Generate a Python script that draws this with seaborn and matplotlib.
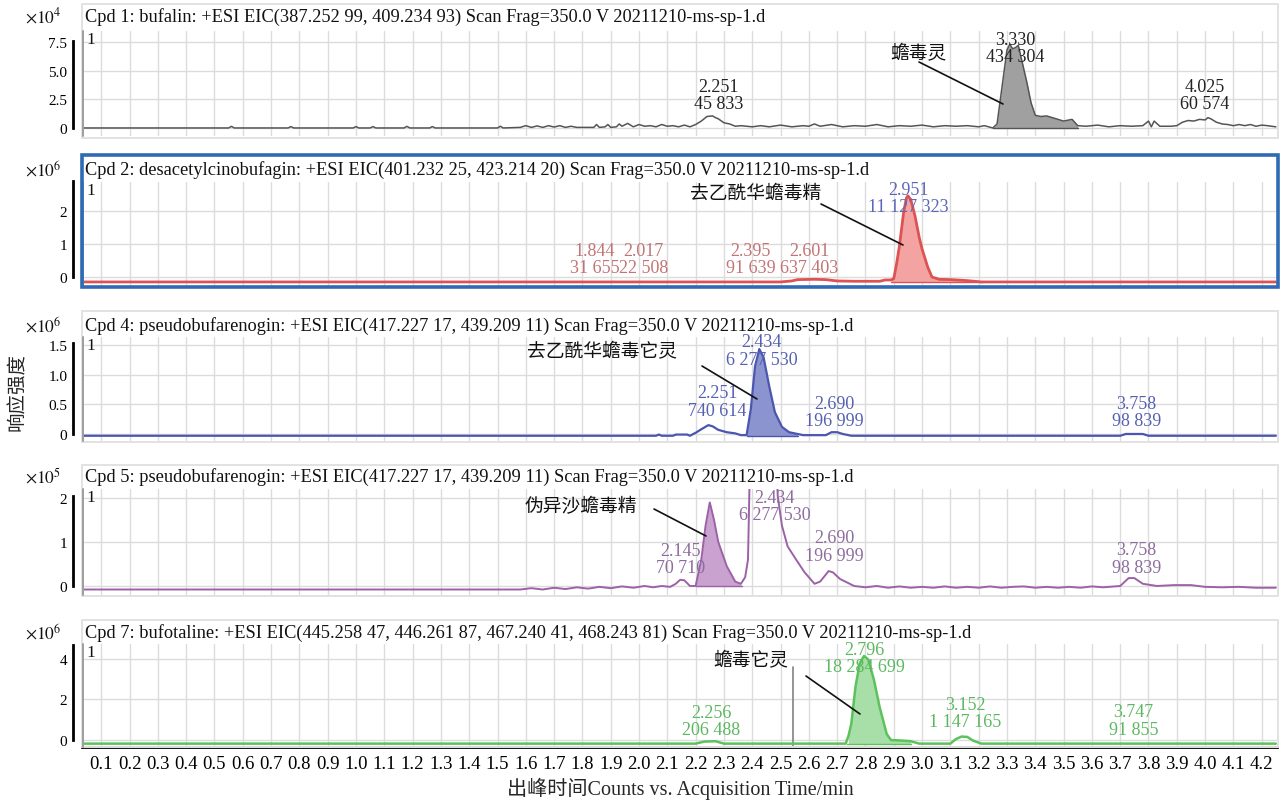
import matplotlib
matplotlib.use("Agg")
import matplotlib.pyplot as plt
from matplotlib.lines import Line2D
from matplotlib.patches import Rectangle
import pandas as pd
import seaborn as sns

# ---------------- data ----------------
titles = [
    "Cpd 1: bufalin: +ESI EIC(387.252 99, 409.234 93) Scan Frag=350.0 V 20211210-ms-sp-1.d",
    "Cpd 2: desacetylcinobufagin: +ESI EIC(401.232 25, 423.214 20) Scan Frag=350.0 V 20211210-ms-sp-1.d",
    "Cpd 4: pseudobufarenogin: +ESI EIC(417.227 17, 439.209 11) Scan Frag=350.0 V 20211210-ms-sp-1.d",
    "Cpd 5: pseudobufarenogin: +ESI EIC(417.227 17, 439.209 11) Scan Frag=350.0 V 20211210-ms-sp-1.d",
    "Cpd 7: bufotaline: +ESI EIC(445.258 47, 446.261 87, 467.240 41, 468.243 81) Scan Frag=350.0 V 20211210-ms-sp-1.d",
]
exponents = [4, 6, 6, 5, 6]
compound_names = ["蟾毒灵", "去乙酰华蟾毒精", "去乙酰华蟾毒它灵", "伪异沙蟾毒精", "蟾毒它灵"]

y_ticks = [[0, 2.5, 5.0, 7.5], [0, 1, 2], [0, 0.5, 1.0, 1.5], [0, 1, 2], [0, 2, 4]]
y_tick_labels = [["0", "2.5", "5.0", "7.5"], ["0", "1", "2"], ["0", "0.5", "1.0", "1.5"],
                 ["0", "1", "2"], ["0", "2", "4"]]

x_ticks = [0.1, 0.2, 0.3, 0.4, 0.5, 0.6, 0.7, 0.8, 0.9, 1.0, 1.1, 1.2, 1.3, 1.4,
           1.5, 1.6, 1.7, 1.8, 1.9, 2.0, 2.1, 2.2, 2.3, 2.4, 2.5, 2.6, 2.7, 2.8,
           2.9, 3.0, 3.1, 3.2, 3.3, 3.4, 3.5, 3.6, 3.7, 3.8, 3.9, 4.0, 4.1, 4.2]
x_tick_labels = ["0.1", "0.2", "0.3", "0.4", "0.5", "0.6", "0.7", "0.8", "0.9", "1.0",
                 "1.1", "1.2", "1.3", "1.4", "1.5", "1.6", "1.7", "1.8", "1.9", "2.0",
                 "2.1", "2.2", "2.3", "2.4", "2.5", "2.6", "2.7", "2.8", "2.9", "3.0",
                 "3.1", "3.2", "3.3", "3.4", "3.5", "3.6", "3.7", "3.8", "3.9", "4.0",
                 "4.1", "4.2"]

# EIC traces: (time / min, counts in units of 10^exponent)
trace_bufalin = [
    (0.03, 0.0), (0.55, 0.0), (0.56, 0.14), (0.57, 0.0), (0.76, 0.0), (0.77, 0.12), (0.78, 0.0),
    (0.99, 0.0), (1.00, 0.12), (1.01, 0.0), (1.05, 0.0), (1.06, 0.12), (1.07, 0.0), (1.17, 0.0),
    (1.18, 0.14), (1.19, 0.0), (1.26, 0.0), (1.27, 0.12), (1.28, 0.0), (1.50, 0.0), (1.51, 0.15),
    (1.52, 0.0), (1.58, 0.05), (1.60, 0.2), (1.62, 0.05), (1.64, 0.18), (1.66, 0.05), (1.68, 0.2),
    (1.70, 0.08), (1.72, 0.2), (1.74, 0.05), (1.76, 0.15), (1.78, 0.05), (1.84, 0.05), (1.85, 0.3),
    (1.86, 0.05), (1.88, 0.1), (1.89, 0.3), (1.90, 0.05), (1.92, 0.1), (1.93, 0.35), (1.94, 0.15),
    (1.96, 0.4), (1.98, 0.1), (2.00, 0.3), (2.02, 0.15), (2.04, 0.2), (2.06, 0.1), (2.08, 0.3),
    (2.10, 0.15), (2.12, 0.2), (2.14, 0.1), (2.16, 0.25), (2.18, 0.1), (2.20, 0.3), (2.22, 0.6),
    (2.24, 1.0), (2.26, 1.05), (2.27, 0.9), (2.28, 0.8), (2.30, 0.45), (2.32, 0.35), (2.34, 0.15),
    (2.36, 0.2), (2.40, 0.1), (2.43, 0.2), (2.46, 0.1), (2.50, 0.25), (2.54, 0.1), (2.58, 0.2),
    (2.60, 0.15), (2.62, 0.35), (2.64, 0.15), (2.68, 0.3), (2.72, 0.1), (2.76, 0.2), (2.80, 0.15),
    (2.84, 0.3), (2.88, 0.1), (2.92, 0.2), (2.96, 0.15), (3.00, 0.25), (3.04, 0.1), (3.08, 0.2),
    (3.12, 0.15), (3.16, 0.2), (3.20, 0.1), (3.22, 0.2), (3.25, 0.0), (3.265, 0.35), (3.285, 4.0),
    (3.30, 6.8), (3.31, 7.3), (3.32, 6.9), (3.33, 7.0), (3.34, 7.2), (3.355, 5.6), (3.37, 4.0),
    (3.385, 2.2), (3.40, 1.1), (3.42, 1.0), (3.44, 1.05), (3.46, 0.9), (3.48, 0.75), (3.50, 0.6),
    (3.52, 0.7), (3.53, 0.75), (3.55, 0.2), (3.58, 0.15), (3.62, 0.25), (3.66, 0.1), (3.70, 0.2),
    (3.74, 0.15), (3.78, 0.2), (3.80, 0.6), (3.81, 0.1), (3.82, 0.6), (3.84, 0.15), (3.88, 0.15),
    (3.90, 0.2), (3.92, 0.5), (3.94, 0.65), (3.96, 0.6), (3.98, 0.75), (4.00, 0.7), (4.01, 0.9),
    (4.02, 0.8), (4.04, 0.5), (4.06, 0.35), (4.08, 0.3), (4.10, 0.2), (4.12, 0.3), (4.14, 0.2),
    (4.16, 0.3), (4.18, 0.15), (4.20, 0.25), (4.22, 0.2), (4.25, 0.1),
]
trace_desacetylcinobufagin = [
    (0.03, -0.15), (2.50, -0.15), (2.54, -0.12), (2.56, -0.08), (2.62, -0.07), (2.66, -0.08),
    (2.70, -0.12), (2.76, -0.13), (2.85, -0.13), (2.87, -0.09), (2.89, -0.09), (2.90, -0.05),
    (2.91, 0.4), (2.92, 0.94), (2.935, 1.97), (2.945, 2.4), (2.95, 2.46), (2.96, 2.35),
    (2.975, 1.85), (2.99, 1.2), (3.00, 0.85), (3.02, 0.3), (3.035, 0.0), (3.06, -0.07),
    (3.105, -0.08), (3.16, -0.11), (3.21, -0.15), (4.25, -0.15),
]
trace_cpd4 = [
    (0.03, -0.03), (2.00, -0.03), (2.06, -0.03), (2.07, -0.01), (2.08, -0.03), (2.12, -0.03),
    (2.13, -0.01), (2.17, -0.01), (2.18, -0.03), (2.20, 0.02), (2.22, 0.08), (2.245, 0.15),
    (2.26, 0.13), (2.28, 0.07), (2.31, 0.03), (2.34, 0.01), (2.36, -0.02), (2.38, -0.02),
    (2.395, 0.42), (2.41, 1.15), (2.425, 1.44), (2.44, 1.30), (2.46, 0.81), (2.48, 0.37),
    (2.505, 0.12), (2.53, 0.03), (2.56, 0.0), (2.58, -0.02), (2.66, -0.02), (2.68, 0.03),
    (2.70, 0.03), (2.72, 0.0), (2.75, -0.03), (3.70, -0.03), (3.72, 0.0), (3.78, 0.0),
    (3.80, -0.03), (4.25, -0.03),
]
trace_cpd5 = [
    (0.03, -0.08), (1.58, -0.08), (1.62, -0.05), (1.66, -0.08), (1.70, -0.04), (1.74, -0.07),
    (1.78, -0.03), (1.82, -0.06), (1.86, -0.02), (1.90, -0.05), (1.94, -0.01), (1.98, -0.04),
    (2.02, 0.0), (2.05, -0.03), (2.08, 0.0), (2.11, -0.02), (2.13, 0.05), (2.145, 0.14),
    (2.16, 0.13), (2.18, 0.0), (2.20, 0.0), (2.22, 0.6), (2.235, 1.37), (2.25, 1.9),
    (2.265, 1.5), (2.28, 1.0), (2.31, 0.45), (2.34, 0.1), (2.36, 0.05), (2.375, 0.2),
    (2.385, 0.6), (2.39, 2.2), (2.395, 6.0), (2.41, 12.0), (2.425, 14.4), (2.44, 13.0),
    (2.46, 8.1), (2.48, 3.7), (2.49, 2.05), (2.505, 1.37), (2.525, 0.9), (2.555, 0.6),
    (2.585, 0.31), (2.62, 0.05), (2.64, 0.1), (2.67, 0.34), (2.685, 0.31), (2.71, 0.16),
    (2.76, 0.0), (2.80, -0.03), (2.84, 0.0), (2.88, -0.04), (2.92, -0.01), (2.96, -0.04),
    (3.00, -0.02), (3.04, -0.04), (3.08, -0.01), (3.12, -0.04), (3.16, -0.02), (3.20, -0.04),
    (3.24, -0.01), (3.28, -0.04), (3.32, -0.02), (3.36, -0.01), (3.40, -0.04), (3.44, -0.02),
    (3.48, -0.04), (3.52, -0.02), (3.56, -0.04), (3.60, -0.01), (3.64, -0.03), (3.70, 0.0),
    (3.73, 0.18), (3.75, 0.18), (3.78, 0.05), (3.83, 0.0), (3.89, 0.02), (3.95, 0.02),
    (4.00, -0.02), (4.06, -0.03), (4.12, -0.02), (4.18, -0.04), (4.25, -0.04),
]
trace_bufotaline = [
    (0.03, -0.18), (2.20, -0.18), (2.23, -0.08), (2.27, -0.06), (2.30, -0.18), (2.73, -0.18),
    (2.74, 0.2), (2.75, 0.8), (2.765, 2.65), (2.78, 3.8), (2.795, 4.15), (2.81, 3.97),
    (2.83, 2.97), (2.85, 1.63), (2.875, 0.3), (2.89, 0.0), (2.93, -0.03), (2.96, -0.06),
    (2.99, -0.18), (3.10, -0.18), (3.12, 0.05), (3.14, 0.17), (3.16, 0.15), (3.18, -0.03),
    (3.21, -0.18), (4.25, -0.18),
]
traces = [trace_bufalin, trace_desacetylcinobufagin, trace_cpd4, trace_cpd5, trace_bufotaline]

# integrated peak (shaded) windows and the baseline they sit on
fill_windows = [(3.25, 3.55), (2.89, 3.21), (2.38, 2.56), (2.20, 2.365), (2.735, 2.96)]
fill_bases = [0.0, -0.15, -0.03, 0.0, -0.18]

# peak labels: retention time and area
peak_rt = [["2.251", "3.330", "4.025"],
           ["1.844", "2.017", "2.395", "2.601", "2.951"],
           ["2.251", "2.434", "2.690", "3.758"],
           ["2.145", "2.434", "2.690", "3.758"],
           ["2.256", "2.796", "3.152", "3.747"]]
peak_area = [["45 833", "434 304", "60 574"],
             ["31 655", "22 508", "91 639", "637 403", "11 127 323"],
             ["740 614", "6 277 530", "196 999", "98 839"],
             ["70 710", "6 277 530", "196 999", "98 839"],
             ["206 488", "18 284 699", "1 147 165", "91 855"]]

cursor_time = 2.545  # marker line in the Cpd 7 panel

# ---------------- layout / style ----------------
W, H = 1284, 803
AX_L, AX_R = 82, 1277
XLIM = (0.032, 4.254)

# per panel: data area top/bottom (px), frame top/bottom (px), title row (px)
data_px = [(32, 137), (183, 287), (338, 442), (490, 596), (645, 748)]
frame_px = [(5, 139), (156, 288), (312, 443), (466, 597), (621, 748)]
title_px = [17, 170, 326, 477, 633]
ylims = [(-0.70, 8.45), (-0.273, 2.879), (-0.119, 1.644), (-0.205, 2.205), (-0.346, 4.74)]
spine_tops = [7.6, 2.9, 1.55, 2.05, 4.7]

line_colors = ["#555555", "#dd5252", "#4a56b0", "#9c62a6", "#5cc25c"]
fill_colors = ["#a0a0a0", "#f4a3a3", "#8c94d0", "#c9a2cf", "#a8dea8"]
line_widths = [1.1, 2.0, 1.6, 1.4, 1.8]
label_colors = [["#222222"] * 3,
                ["#c27474", "#c27474", "#c27474", "#c27474", "#5d66b6"],
                ["#5660b2"] * 4,
                ["#8d6c9e"] * 4,
                ["#5cb860"] * 4]
label_y = [[2.87, 6.97, 2.87],
           [0.545, 0.545, 0.545, 0.545, 2.39],
           [0.55, 1.41, 0.373, 0.373],
           [0.61, 1.82, 0.90, 0.625],
           [0.93, 4.05, 1.33, 0.95]]
label_dx = [[0.03, 0.0, -0.025],
            [0.0, 0.0, 0.0, 0.0, 0.0],
            [0.025, 0.0, 0.0, 0.0],
            [0.0, 0.045, 0.0, 0.0],
            [0.0, 0.0, 0.0, 0.0]]

# compound-name callouts: text centre and leader line (figure px, y downward)
name_pos = [(918, 54), (756, 194), (602, 352), (581, 507), (751, 661)]
leader_px = [((919, 63), (1003, 105)), ((821, 205), (903, 246)), ((702, 367), (757, 400)),
             ((654, 510), (706, 537)), ((806, 677), (860, 715))]

sns.set_theme(style="white")
plt.rcParams["font.family"] = ["Liberation Serif", "Noto Sans CJK SC"]
plt.rcParams["mathtext.fontset"] = "stix"
plt.rcParams["axes.unicode_minus"] = False

fig = plt.figure(figsize=(W / 100, H / 100), dpi=100)
fig.patch.set_facecolor("white")


def fx(px):
    return px / W


def fy(py):
    return 1 - py / H


for i in range(5):
    top, bot = data_px[i]
    ax = fig.add_axes([fx(AX_L), fy(bot), (AX_R - AX_L) / W, (bot - top) / H])
    ax.set_facecolor("white")
    ax.set_xlim(*XLIM)
    ax.set_ylim(*ylims[i])

    # grid
    ax.set_xticks(x_ticks)
    ax.set_yticks(y_ticks[i])
    ax.set_yticklabels(y_tick_labels[i], fontsize=14)
    ax.grid(True, axis="both", color="#dcdcdc", lw=1.0)
    ax.set_axisbelow(True)

    for s in ["top", "right"]:
        ax.spines[s].set_visible(False)
    ax.spines["left"].set_position(("outward", 6.5))
    ax.spines["left"].set_bounds(0, spine_tops[i])
    ax.spines["left"].set_color("black")
    ax.spines["left"].set_linewidth(2.0)
    ax.tick_params(axis="y", direction="in", length=4.5, width=1.6, pad=4, colors="black")

    if i == 4:
        ax.spines["bottom"].set_color("black")
        ax.spines["bottom"].set_linewidth(2.0)
        ax.set_xticklabels(x_tick_labels, fontsize=13.5)
        ax.tick_params(axis="x", direction="in", length=5, width=1.6, pad=6, colors="black")
    else:
        ax.spines["bottom"].set_visible(False)
        ax.tick_params(axis="x", length=0, labelbottom=False)

    # trace
    df = pd.DataFrame(traces[i], columns=["time", "counts"])
    lo, hi = fill_windows[i]
    seg = df[(df["time"] >= lo) & (df["time"] <= hi)]
    ax.fill_between(seg["time"], seg["counts"], fill_bases[i], color=fill_colors[i], lw=0, zorder=2)
    ax.plot([lo, hi], [fill_bases[i], fill_bases[i]], color=line_colors[i], lw=1.0, zorder=3)
    sns.lineplot(data=df, x="time", y="counts", ax=ax, color=line_colors[i],
                 lw=line_widths[i], estimator=None, sort=False, zorder=4)
    ax.set_xlabel("")
    ax.set_ylabel("")

    if i == 4:
        ax.plot([cursor_time, cursor_time], [ylims[i][0], 3.6], color="#8c8c8c", lw=1.3, zorder=3)

    # peak labels
    for rt, area, c, yy, dx in zip(peak_rt[i], peak_area[i], label_colors[i], label_y[i], label_dx[i]):
        ax.text(float(rt) + dx, yy, f"{rt}\n{area}", ha="center", va="center",
                fontsize=13, color=c, linespacing=1.05, zorder=6)

    # panel frame, inner left edge, title, multiplier, trace index
    ft, fb = frame_px[i]
    if i == 1:
        frame = Rectangle((fx(AX_L), fy(fb)), (AX_R + 1 - AX_L) / W, (fb - ft) / H,
                          transform=fig.transFigure, fill=False, ec="#2e6bb4", lw=2.6, zorder=10)
    else:
        frame = Rectangle((fx(AX_L), fy(fb)), (AX_R + 1 - AX_L) / W, (fb - ft) / H,
                          transform=fig.transFigure, fill=False, ec="#e2e2e2", lw=1.4, zorder=1)
    fig.add_artist(frame)
    fig.add_artist(Line2D([fx(AX_L + 1)] * 2, [fy(top), fy(bot)], color="#9e9e9e", lw=1.4))
    fig.text(fx(85), fy(title_px[i]), titles[i], ha="left", va="center", fontsize=13.2, color="#111111")
    fig.text(fx(43), fy(title_px[i]), r"$\times10^{%d}$" % exponents[i], ha="center", va="center",
             fontsize=12.5, color="#111111")
    fig.text(fx(86), fy(top + 8), "1", ha="left", va="center", fontsize=12.5, color="#111111")

    # compound callout
    cx, cy = name_pos[i]
    fig.text(fx(cx), fy(cy), compound_names[i], ha="center", va="center", fontsize=13.5,
             color="#111111", zorder=12)
    (x0, y0), (x1, y1) = leader_px[i]
    fig.add_artist(Line2D([fx(x0), fx(x1)], [fy(y0), fy(y1)], color="#111111", lw=1.2, zorder=12))

fig.text(fx(18), fy(392), "响应强度", rotation=90, ha="center", va="center", fontsize=14)
fig.text(fx(680), fy(789), "出峰时间Counts vs. Acquisition Time/min", ha="center", va="center",
         fontsize=14.5)

fig.savefig("out.png", dpi=100, facecolor="white")
